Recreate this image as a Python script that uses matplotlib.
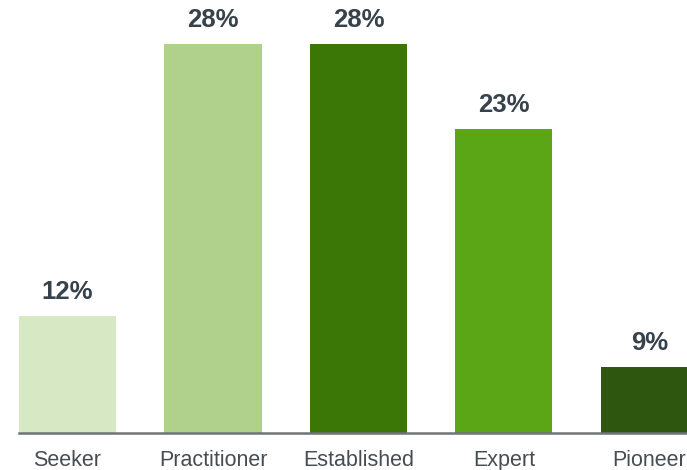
import matplotlib
matplotlib.use("Agg")
import matplotlib.pyplot as plt

# Share of respondents by maturity level
levels = ["Seeker", "Practitioner", "Established", "Expert", "Pioneer"]
shares = [12, 28, 28, 23, 9]
bar_colors = ["#d6e8c4", "#afd18c", "#3b7707", "#5aa617", "#2f560e"]

plt.rcParams["font.family"] = ["Liberation Sans", "DejaVu Sans"]

fig = plt.figure(figsize=(6.87, 4.70), dpi=100)
ax = fig.add_axes([19 / 687, 37.5 / 470, 668 / 687, 432.5 / 470])

x = list(range(len(levels)))
bars = ax.bar(x, shares, width=0.667, color=bar_colors, bottom=0)

# value labels above each bar
for xi, v in zip(x, shares):
    ax.text(xi, v + 0.65, f"{v}%", ha="center", va="bottom",
            fontsize=18.5, fontweight="bold", color="#37424a")

ax.set_xlim(-0.3335, 4.258)
ax.set_ylim(5.12, 30.56)

ax.set_xticks(x)
ax.set_xticklabels(levels, fontsize=15.5, color="#454d53")
ax.tick_params(axis="x", length=0, pad=12.5)
ax.set_yticks([])

for side in ["top", "right", "left"]:
    ax.spines[side].set_visible(False)
ax.spines["bottom"].set_color("#6e7478")
ax.spines["bottom"].set_linewidth(1.8)

fig.savefig("out.png", dpi=100)
